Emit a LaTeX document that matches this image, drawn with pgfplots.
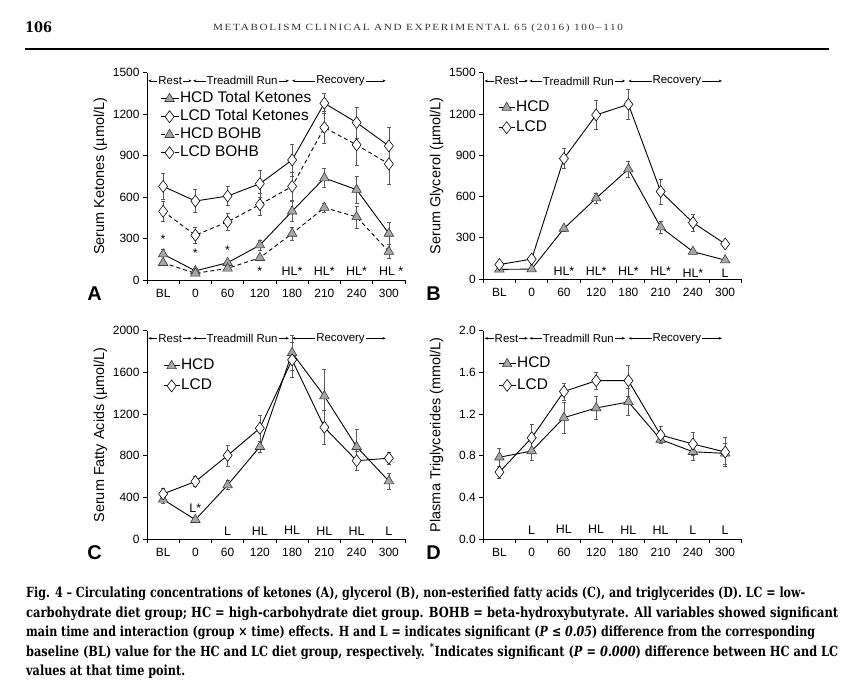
\documentclass[border=0pt]{standalone}
\usepackage{pgfplots}
\pgfplotsset{compat=1.18}
\usepackage{fontspec}
\usepackage{graphicx}
\setmainfont{Liberation Sans}
\newfontfamily\serifb{DejaVu Serif Condensed}
\newfontfamily\hdrfont[LetterSpace=15]{Liberation Serif}
\usetikzlibrary{arrows.meta}
\definecolor{trifill}{HTML}{A6A6A6}
\definecolor{tridraw}{HTML}{3C3C3C}
\definecolor{errc}{HTML}{5A5A5A}

\pgfplotsset{
  panel/.style={
    scale only axis, width=258bp, height=207.5bp,
    axis lines*=left, axis line style={line width=0.8bp, black},
    xmin=-0.5, xmax=7.5,
    xtick={0,...,7}, xticklabels={BL,0,60,120,180,210,240,300},
    major x tick style={draw=none},
    minor xtick={-0.5,0.5,...,7.5},
    tick align=outside, major tick length=4bp, minor tick length=4bp,
    tick style={line width=0.7bp,black},
    ticklabel style={font=\fontsize{12}{14}\selectfont},
    xticklabel style={yshift=-1.5bp},
    ylabel style={font=\fontsize{14.5}{16}\selectfont, at={(axis description cs:-0.181,0.5)}, anchor=center},
    clip=false,
    legend style={draw=none, fill=none, font=\fontsize{15.5}{17}\selectfont,
      inner sep=0pt, anchor=north west,
      nodes={inner xsep=1bp, inner ysep=0bp, text height=10.5bp, text depth=3bp}},
    legend cell align=left,
    legend image code/.code={\draw[mark repeat=2,mark phase=2] plot coordinates {(0bp,0bp)(9bp,0bp)(18bp,0bp)};},
  },
  hcd/.style={black, line width=0.9bp, mark=triangle*, mark size=5.5bp,
    mark options={solid, fill=trifill, draw=tridraw, line width=0.6bp}},
  lcd/.style={black, line width=0.9bp, mark=diamond*, mark size=6bp,
    mark options={solid, fill=white, draw=black, line width=0.6bp}},
  eb/.style={error bars/.cd, y dir=both, y explicit,
    error bar style={errc, line width=0.6bp, solid},
    error mark options={errc, mark size=2bp, line width=0.6bp, solid, rotate=90}},
}
\tikzset{
  arr/.style={{Stealth[length=3.2bp,width=2.6bp]}-{Stealth[length=3.2bp,width=2.6bp]}, line width=0.5bp, black},
  ph/.style={fill=white, inner sep=1bp, font=\fontsize{11.5}{12}\selectfont},
  an/.style={font=\fontsize{12.5}{13}\selectfont, inner sep=0pt},
}
\newcommand\phases[1]{%
  \draw[arr] (axis cs:-0.46,#1) -- (axis cs:0.88,#1);
  \draw[arr] (axis cs:0.93,#1) -- (axis cs:3.9,#1);
  \draw[arr] (axis cs:4.0,#1) -- (axis cs:6.9,#1);
  \node[ph] at (axis cs:0.22,#1) {Rest};
  \node[ph] at (axis cs:2.45,#1) {Treadmill Run};
  \node[ph] at (axis cs:5.5,#1) {Recovery};
}

\begin{document}
\begin{tikzpicture}
\useasboundingbox[fill=white] (0,0) rectangle (844bp,-680bp);

% header
\node[anchor=base west, inner sep=0pt] at (25bp,-32.5bp) {\resizebox{27bp}{\height}{\serifb\bfseries\fontsize{14.5}{15}\selectfont 106}};
\node[anchor=base, inner sep=0pt] at (418bp,-30.5bp) {\resizebox{410bp}{\height}{\hdrfont\fontsize{9.5}{10}\selectfont\color{black!80} METABOLISM CLINICAL AND EXPERIMENTAL 65 (2016) 100–110}};
\draw[line width=1.3bp] (25bp,-49bp) -- (829bp,-49bp);

% ---------------- Panel A ----------------
\begin{axis}[panel, at={(147bp,-280bp)}, anchor=south west,
  ymin=0, ymax=1500, ytick={0,300,...,1500}, yticklabels={0,300,600,900,1200,1500},
  ylabel={Serum Ketones (µmol/L)},
  legend style={at={(axis description cs:0.05,0.918)}, nodes={text height=10.5bp, text depth=3bp, inner ysep=2.25bp}},
]
\addplot[hcd, eb] coordinates {(0,187) +- (0,34) (1,66) +- (0,15) (2,125) +- (0,18) (3,252) +- (0,36) (4,497) +- (0,70) (5,737) +- (0,67) (6,653) +- (0,98) (7,336) +- (0,79)};
\addlegendentry{HCD Total Ketones}
\addplot[lcd, eb] coordinates {(0,677) +- (0,91) (1,571) +- (0,82) (2,607) +- (0,70) (3,696) +- (0,96) (4,868) +- (0,115) (5,1278) +- (0,75) (6,1138) +- (0,112) (7,969) +- (0,132)};
\addlegendentry{LCD Total Ketones}
\addplot[hcd, dash pattern=on 4bp off 3bp, eb] coordinates {(0,125) +- (0,20) (1,48) +- (0,12) (2,84) +- (0,15) (3,161) +- (0,18) (4,336) +- (0,48) (5,523) +- (0,34) (6,456) +- (0,79) (7,205) +- (0,50)};
\addlegendentry{HCD BOHB}
\addplot[lcd, dash pattern=on 4bp off 3bp, eb] coordinates {(0,497) +- (0,74) (1,324) +- (0,60) (2,420) +- (0,60) (3,545) +- (0,80) (4,677) +- (0,100) (5,1102) +- (0,115) (6,977) +- (0,150) (7,839) +- (0,150)};
\addlegendentry{LCD BOHB}
\phases{1440}
\node[an] at (axis cs:0,295) {*};
\node[an] at (axis cs:1,192) {*};
\node[an] at (axis cs:2,216) {*};
\node[an] at (axis cs:3,66) {*};
\node[an] at (axis cs:4,67) {HL*};
\node[an] at (axis cs:5,67) {HL*};
\node[an] at (axis cs:6,67) {HL*};
\node[an] at (axis cs:7.07,67) {HL *};
\end{axis}

% ---------------- Panel B ----------------
\begin{axis}[panel, at={(483.3bp,-279bp)}, anchor=south west, height=206.3bp,
  ymin=0, ymax=1500, ytick={0,300,...,1500}, yticklabels={0,300,600,900,1200,1500},
  ylabel={Serum Glycerol (µmol/L)},
  legend style={at={(axis description cs:0.057,0.88)}, nodes={text height=10.5bp, text depth=3bp, inner ysep=3.25bp}},
  legend image code/.code={\draw[mark repeat=2,mark phase=2] plot coordinates {(0bp,0bp)(8bp,0bp)(16bp,0bp)};},
]
\addplot[hcd, eb] coordinates {(0,70) +- (0,10) (1,72) +- (0,10) (2,367) +- (0,18) (3,588) +- (0,36) (4,799) +- (0,58) (5,377) +- (0,43) (6,199) +- (0,12) (7,137) +- (0,10)};
\addlegendentry{HCD}
\addplot[lcd, eb] coordinates {(0,105) +- (0,12) (1,145) +- (0,15) (2,876) +- (0,72) (3,1193) +- (0,103) (4,1270) +- (0,106) (5,636) +- (0,91) (6,410) +- (0,60) (7,255) +- (0,10)};
\addlegendentry{LCD}
\phases{1440}
\node[an] at (axis cs:2,53) {HL*};
\node[an] at (axis cs:3,53) {HL*};
\node[an] at (axis cs:4,53) {HL*};
\node[an] at (axis cs:5,53) {HL*};
\node[an] at (axis cs:6,41) {HL*};
\node[an] at (axis cs:7,41) {L};
\end{axis}

% ---------------- Panel C ----------------
\begin{axis}[panel, at={(147bp,-539bp)}, anchor=south west, height=208.3bp,
  ymin=0, ymax=2000, ytick={0,400,...,2000}, yticklabels={0,400,800,1200,1600,2000},
  ylabel={Serum Fatty Acids (µmol/L)},
  legend style={at={(axis description cs:0.062,0.88)}, nodes={text height=10.5bp, text depth=3bp, inner ysep=3.25bp}},
  legend image code/.code={\draw[mark repeat=2,mark phase=2] plot coordinates {(0bp,0bp)(8bp,0bp)(16bp,0bp)};},
]
\addplot[hcd, eb] coordinates {(0,380) +- (0,40) (1,185) +- (0,20) (2,518) +- (0,45) (3,886) +- (0,55) (4,1788) +- (0,170) (5,1372) +- (0,253) (6,886) +- (0,165) (7,556) +- (0,77)};
\addlegendentry{HCD}
\addplot[lcd, eb] coordinates {(0,433) +- (0,50) (1,552) +- (0,50) (2,802) +- (0,102) (3,1064) +- (0,128) (4,1720) +- (0,166) (5,1072) +- (0,160) (6,752) +- (0,90) (7,776) +- (0,55)};
\addlegendentry{LCD}
\phases{1927}
\node[an] at (axis cs:1,300) {L*};
\node[an] at (axis cs:2,77) {L};
\node[an] at (axis cs:3,77) {HL};
\node[an] at (axis cs:4,85) {HL};
\node[an] at (axis cs:5,77) {HL};
\node[an] at (axis cs:6,77) {HL};
\node[an] at (axis cs:7,77) {L};
\end{axis}

% ---------------- Panel D ----------------
\begin{axis}[panel, at={(483.3bp,-539bp)}, anchor=south west, height=208.3bp,
  ymin=0, ymax=2, ytick={0,0.4,...,2.0}, yticklabels={0.0,0.4,0.8,1.2,1.6,2.0},
  ylabel={Plasma Triglycerides (mmol/L)},
  legend style={at={(axis description cs:0.057,0.893)}, nodes={text height=10.5bp, text depth=3bp, inner ysep=4bp}},
  legend image code/.code={\draw[mark repeat=2,mark phase=2] plot coordinates {(0bp,0bp)(8.5bp,0bp)(17bp,0bp)};},
]
\addplot[hcd, eb] coordinates {(0,0.785) +- (0,0.09) (1,0.845) +- (0,0.09) (2,1.165) +- (0,0.15) (3,1.258) +- (0,0.11) (4,1.316) +- (0,0.13) (5,0.955) +- (0,0.04) (6,0.838) +- (0,0.08) (7,0.822) +- (0,0.1)};
\addlegendentry{HCD}
\addplot[lcd, eb] coordinates {(0,0.642) +- (0,0.06) (1,0.972) +- (0,0.13) (2,1.416) +- (0,0.08) (3,1.52) +- (0,0.08) (4,1.52) +- (0,0.15) (5,0.998) +- (0,0.08) (6,0.912) +- (0,0.11) (7,0.835) +- (0,0.14)};
\addlegendentry{LCD}
\phases{1.927}
\node[an] at (axis cs:1,0.085) {L};
\node[an] at (axis cs:2,0.095) {HL};
\node[an] at (axis cs:3,0.095) {HL};
\node[an] at (axis cs:4,0.085) {HL};
\node[an] at (axis cs:5,0.085) {HL};
\node[an] at (axis cs:6,0.085) {L};
\node[an] at (axis cs:7,0.085) {L};
\end{axis}

% panel letters
\node[font=\bfseries\fontsize{20}{20}\selectfont, inner sep=0pt] at (94.5bp,-294bp) {A};
\node[font=\bfseries\fontsize{20}{20}\selectfont, inner sep=0pt] at (433.5bp,-294bp) {B};
\node[font=\bfseries\fontsize{20}{20}\selectfont, inner sep=0pt] at (94.5bp,-553bp) {C};
\node[font=\bfseries\fontsize{20}{20}\selectfont, inner sep=0pt] at (433.5bp,-553bp) {D};

% caption
\newcommand\capline[3]{\node[anchor=base west, inner sep=0pt] at (26bp,-#1bp) {\resizebox{#2bp}{\height}{\serifb\bfseries\fontsize{14}{16}\selectfont #3}};}
\capline{597.5}{779}{Fig. 4 – Circulating concentrations of ketones (A), glycerol (B), non-esterified fatty acids (C), and triglycerides (D). LC = low-}
\capline{617}{812}{carbohydrate diet group; HC = high-carbohydrate diet group. BOHB = beta-hydroxybutyrate. All variables showed significant}
\capline{636.5}{789}{main time and interaction (group × time) effects. H and L = indicates significant (\textit{P} ≤ \textit{0.05}) difference from the corresponding}
\capline{656}{812}{baseline (BL) value for the HC and LC diet group, respectively. \textsuperscript{*}Indicates significant (\textit{P} = \textit{0.000}) difference between HC and LC}
\capline{675}{159}{values at that time point.}
\end{tikzpicture}
\end{document}
